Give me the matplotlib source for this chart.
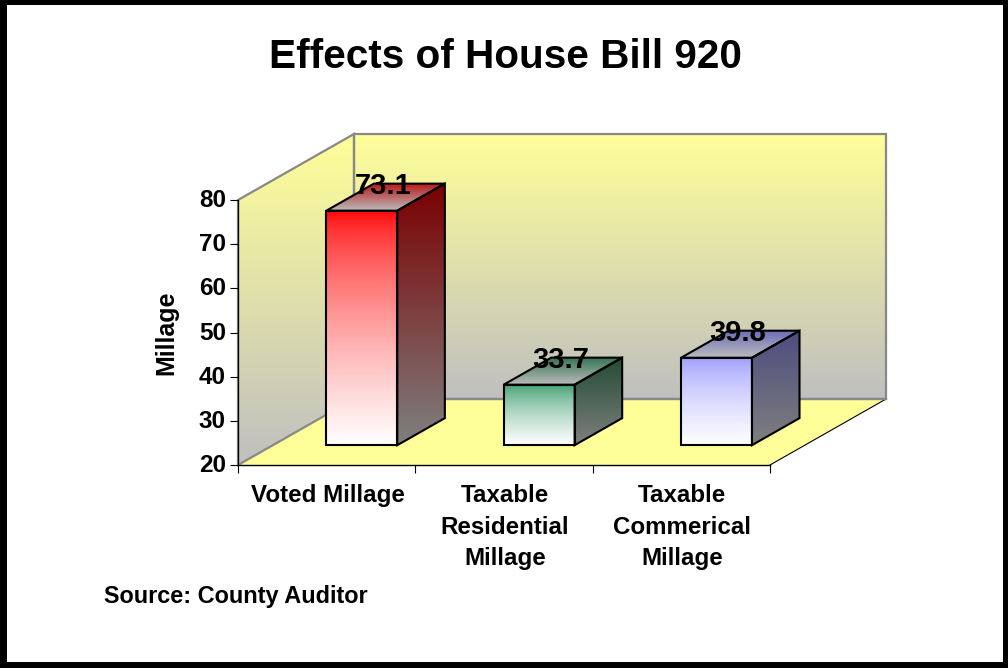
#! /usr/bin/env python3
import numpy as np
from matplotlib import pyplot as plt
from matplotlib.patches import Polygon, Rectangle
from matplotlib.transforms import ScaledTranslation

categories = ["Voted Millage", "Taxable\nResidential\nMillage", "Taxable\nCommerical\nMillage"]
values = [73.1, 33.7, 39.8]
value_ticks = [20, 30, 40, 50, 60, 70, 80]

W, H = 1008, 668
plt.rcParams['font.family'] = ['Liberation Sans', 'DejaVu Sans']
plt.rcParams['font.weight'] = 'bold'

# oblique depth: how far one unit of depth moves a point, in data units
DEPTH_X = 116 / 177.33
DEPTH_Y = 66 / 4.417
BAR_WIDTH = 0.40
BAR_D0, BAR_D1 = 0.30, 0.71

YELLOW = (1.0, 1.0, 0.6)
GREY = (0.75, 0.75, 0.75)
WHITE = (1.0, 1.0, 1.0)
MID = (0.5, 0.5, 0.5)

fig = plt.figure(figsize=(W / 100, H / 100), dpi=100, facecolor='black')
fig.add_artist(Rectangle((7 / W, 1 - 662 / H), 996 / W, 657 / H, transform=fig.transFigure,
                         facecolor='white', edgecolor='none', zorder=-10))

# axes rectangle = front edge of the floor and the height of the value axis
ax = fig.add_axes([238 / W, 1 - 465 / H, 532 / W, 265 / H])
ax.patch.set_visible(False)
ax.set_xlim(0, 3)
ax.set_ylim(20, 80)
ax.set_autoscale_on(False)


def proj(x, v, d):
    return (x + d * DEPTH_X, v + d * DEPTH_Y)


def gradient_face(points, top, bottom, zorder, gamma=1.0):
    # vertical colour ramp clipped to the outline of the face
    pts = np.array(points)
    t = np.linspace(0, 1, 128)[:, np.newaxis] ** gamma
    ramp = ((1 - t) * np.array(top) + t * np.array(bottom))[:, np.newaxis, :]
    im = ax.imshow(ramp, aspect='auto', origin='upper', interpolation='bilinear', zorder=zorder,
                   extent=(pts[:, 0].min(), pts[:, 0].max(), pts[:, 1].min(), pts[:, 1].max()))
    poly = Polygon(pts, closed=True, transform=ax.transData, facecolor='none', edgecolor='none')
    im.set_clip_path(poly)
    im.set_clip_box(fig.bbox)


def outline(points, color, lw, zorder):
    ax.add_patch(Polygon(points, closed=True, facecolor='none', edgecolor=color, linewidth=lw,
                         zorder=zorder, clip_on=False, joinstyle='miter'))


# walls and floor
back = [proj(0, 20, 1), proj(3, 20, 1), proj(3, 80, 1), proj(0, 80, 1)]
side = [proj(0, 20, 0), proj(0, 20, 1), proj(0, 80, 1), proj(0, 80, 0)]
floor = [proj(0, 20, 0), proj(3, 20, 0), proj(3, 20, 1), proj(0, 20, 1)]
gradient_face(back, YELLOW, GREY, 0.1)
gradient_face(side, YELLOW, GREY, 0.2)
ax.add_patch(Polygon(floor, closed=True, facecolor=YELLOW, edgecolor='none', zorder=0.3, clip_on=False))
outline(back, '#888888', 1.6, 0.4)
outline(side, '#888888', 1.6, 0.4)
ax.plot(*zip(proj(3, 20, 0), proj(3, 20, 1)), color='black', lw=0.8, clip_on=False, zorder=0.5)
ax.plot(*zip(proj(0, 20, 1), proj(3, 20, 1)), color='#888888', lw=1.6, clip_on=False, zorder=0.5)

# bars
bar_tops = [(1.0, 0.0, 0.0), (0.2, 0.6, 0.4), (0.6, 0.6, 1.0)]
side_tops = [(0.48, 0.0, 0.0), (0.13, 0.3, 0.2), (0.3, 0.3, 0.5)]
lid_backs = [(0.72, 0.09, 0.09), (0.2, 0.45, 0.32), (0.42, 0.42, 0.72)]
for i, v in enumerate(values):
    x0 = i + 0.5 - BAR_WIDTH / 2 + 0.002
    x1 = x0 + BAR_WIDTH
    z = 1 + i
    front = [proj(x0, 20, BAR_D0), proj(x1, 20, BAR_D0), proj(x1, v, BAR_D0), proj(x0, v, BAR_D0)]
    right = [proj(x1, 20, BAR_D0), proj(x1, 20, BAR_D1), proj(x1, v, BAR_D1), proj(x1, v, BAR_D0)]
    lid = [proj(x0, v, BAR_D0), proj(x1, v, BAR_D0), proj(x1, v, BAR_D1), proj(x0, v, BAR_D1)]
    gradient_face(front, bar_tops[i], WHITE, z, gamma=0.65)
    gradient_face(right, side_tops[i], MID, z)
    gradient_face(lid, lid_backs[i], (0.74, 0.74, 0.74), z)
    for face in (front, right, lid):
        outline(face, 'black', 1.5, z + 0.1)
    # label sits on the back edge of the lid
    ax.annotate("{:.1f}".format(v), proj((x0 + x1) / 2 - 0.15, v, BAR_D1),
                xytext=(0.3, -1.5), textcoords='offset points', ha='center', va='center',
                fontsize=21, fontweight='bold', color='black', zorder=10, annotation_clip=False)

# axes
for s in ('top', 'right'):
    ax.spines[s].set_visible(False)
ax.spines['left'].set_linewidth(0.9)
ax.spines['bottom'].set_linewidth(1.0)
ax.spines['left'].set_zorder(0.6)
ax.spines['bottom'].set_zorder(0.6)
ax.set_yticks(value_ticks)
ax.tick_params(axis='y', labelsize=17.5, length=5.8, width=0.8, pad=3)
for lab in ax.get_yticklabels():
    lab.set_transform(lab.get_transform() + ScaledTranslation(0, 2 / 100, fig.dpi_scale_trans))
ax.set_xticks([0, 1, 2, 3])
ax.set_xticklabels([])
ax.tick_params(axis='x', which='major', length=5.8, width=0.8)
ax.set_xticks([0.5, 1.5, 2.5], minor=True)
ax.set_xticklabels(categories, minor=True, fontsize=17.4, linespacing=1.49)
ax.tick_params(axis='x', which='minor', length=0, pad=13.5)
for lab in ax.get_xticklabels(minor=True):
    lab.set_transform(lab.get_transform() + ScaledTranslation(1 / 100, 0, fig.dpi_scale_trans))
ax.set_ylabel("Millage", fontsize=18, fontweight='bold', labelpad=15)

fig.text(505 / W, 1 - 57 / H, "Effects of House Bill 920", ha='center', va='center',
         fontsize=29.2, fontweight='bold')
fig.text(104 / W, 1 - 596 / H, "Source: County Auditor", ha='left', va='center',
         fontsize=16.9, fontweight='bold')

fig.savefig("out.png", dpi=100)
